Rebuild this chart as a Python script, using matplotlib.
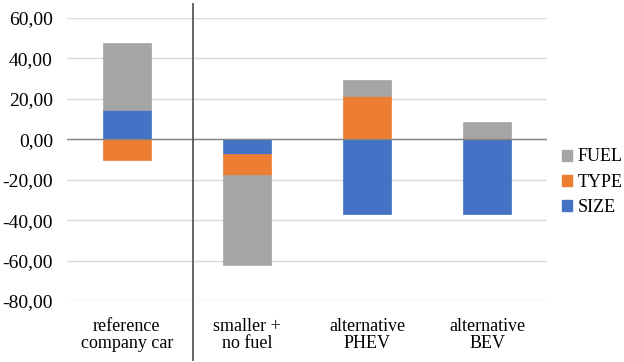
import numpy as np
import matplotlib.pyplot as plt
import matplotlib.transforms as mtransforms
from matplotlib.lines import Line2D
from matplotlib.patches import Patch

plt.rcParams['font.family'] = ['Liberation Serif', 'DejaVu Serif']

categories = ["reference\ncompany car", "smaller +\nno fuel", "alternative\nPHEV", "alternative\nBEV"]
size_vals = [14.4, -7.1, -37.1, -37.1]
type_vals = [-10.4, -10.7, 21.3, 0.8]
fuel_vals = [33.0, -44.6, 8.2, 7.8]
y_ticks = [-80, -60, -40, -20, 0, 20, 40, 60]

series = [("SIZE", size_vals, "#4472C4"),
          ("TYPE", type_vals, "#ED7D31"),
          ("FUEL", fuel_vals, "#A5A5A5")]

fig = plt.figure(figsize=(6.24, 3.62), dpi=100)
ax = fig.add_axes([0.107, 0.1685, 0.77, 0.782])

x = np.arange(len(categories))
pos_bottom = np.zeros(len(categories))
neg_bottom = np.zeros(len(categories))
for name, vals, col in series:
    vals = np.array(vals)
    bottom = np.where(vals >= 0, pos_bottom, neg_bottom)
    ax.bar(x, vals, 0.4, bottom=bottom, color=col, edgecolor=col, linewidth=0.5, zorder=3)
    pos_bottom = pos_bottom + np.where(vals >= 0, vals, 0)
    neg_bottom = neg_bottom + np.where(vals < 0, vals, 0)

ax.set_xlim(-0.5, len(categories) - 0.5)
ax.set_ylim(-80, 60)
ax.set_yticks(y_ticks)
ax.set_yticklabels([f"{v:.2f}".replace(".", ",") for v in y_ticks], fontsize=14)
ax.set_xticks(x)
ax.set_xticklabels(categories, fontsize=13, linespacing=1.0)
ax.tick_params(length=0)
ax.tick_params(axis='y', pad=10)
ax.tick_params(axis='x', pad=12)
ax.yaxis.grid(True, color="#d9d9d9", linewidth=1, zorder=0)
ax.axhline(0, color="#868686", linewidth=1, zorder=4)
for s in ax.spines.values():
    s.set_visible(False)

# separator between reference and alternatives
trans = mtransforms.blended_transform_factory(ax.transData, fig.transFigure)
fig.add_artist(Line2D([0.55, 0.55], [0.005, 0.99], transform=trans, color="#595959", linewidth=1.3))

handles = [Patch(facecolor=col, edgecolor=col, label=name) for name, vals, col in series[::-1]]
ax.legend(handles=handles, loc="center left", bbox_to_anchor=(1.03, 0.42), frameon=False,
          fontsize=13, handlelength=0.55, handleheight=0.55, handletextpad=0.35, labelspacing=0.45,
          borderaxespad=0, borderpad=0)

fig.savefig("out.png", dpi=100)
